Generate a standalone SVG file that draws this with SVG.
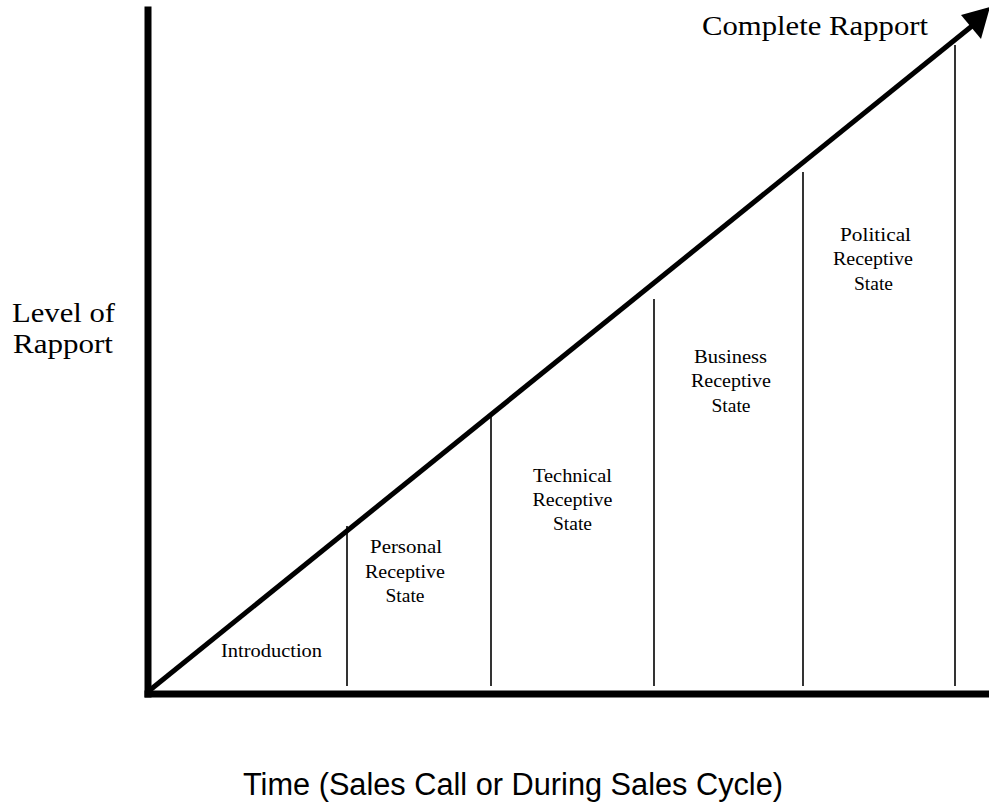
<svg xmlns="http://www.w3.org/2000/svg" width="989" height="803" viewBox="0 0 989 803">
  <defs>
    <style>
      .axis { stroke: #000; stroke-width: 7; fill: none; stroke-linecap: square; }
      .trend { stroke: #000; stroke-width: 5; fill: none; }
      .divider { stroke: #000; stroke-width: 1.6; fill: none; }
      .head { fill: #000; stroke: none; }
      .serif { font-family: "Liberation Serif", "Times New Roman", serif; fill: #000; }
      .big { font-size: 28px; }
      .stage { font-size: 19px; text-anchor: middle; }
      .caption { font-family: "Liberation Sans", Arial, sans-serif; font-size: 31px; fill: #000; }
    </style>
  </defs>
  <rect width="989" height="803" fill="#fff"/>

  <g id="axes">
    <line class="axis" x1="148" y1="10" x2="148" y2="694"/>
    <line class="axis" x1="148" y1="694" x2="986" y2="694"/>
  </g>

  <g id="connectors">
    <line class="divider" x1="347" y1="526" x2="347" y2="686"/>
    <line class="divider" x1="491" y1="414" x2="491" y2="686"/>
    <line class="divider" x1="654" y1="299" x2="654" y2="686"/>
    <line class="divider" x1="803" y1="172" x2="803" y2="686"/>
    <line class="divider" x1="955" y1="45" x2="955" y2="686"/>
    <line class="trend" x1="150" y1="690" x2="972" y2="26"/>
    <polygon class="head" points="990,7 961,15 981,39"/>
  </g>

  <g id="title">
    <text class="serif big" x="702" y="35" textLength="226" lengthAdjust="spacingAndGlyphs">Complete Rapport</text>
  </g>

  <g id="y-label">
    <text class="serif big" x="12" y="322" textLength="103" lengthAdjust="spacingAndGlyphs">Level of</text>
    <text class="serif big" x="13" y="353" textLength="100" lengthAdjust="spacingAndGlyphs">Rapport</text>
  </g>

  <g id="introduction">
    <text class="serif stage" x="271.5" y="657" textLength="101" lengthAdjust="spacingAndGlyphs">Introduction</text>
  </g>

  <g id="personal">
    <text class="serif stage" x="406" y="553" textLength="72" lengthAdjust="spacingAndGlyphs">Personal</text>
    <text class="serif stage" x="405" y="578" textLength="80" lengthAdjust="spacingAndGlyphs">Receptive</text>
    <text class="serif stage" x="405" y="602" textLength="39" lengthAdjust="spacingAndGlyphs">State</text>
  </g>

  <g id="technical">
    <text class="serif stage" x="572.5" y="482" textLength="79" lengthAdjust="spacingAndGlyphs">Technical</text>
    <text class="serif stage" x="572.5" y="506" textLength="80" lengthAdjust="spacingAndGlyphs">Receptive</text>
    <text class="serif stage" x="572.5" y="530" textLength="39" lengthAdjust="spacingAndGlyphs">State</text>
  </g>

  <g id="business">
    <text class="serif stage" x="730.5" y="363" textLength="73" lengthAdjust="spacingAndGlyphs">Business</text>
    <text class="serif stage" x="731" y="387" textLength="80" lengthAdjust="spacingAndGlyphs">Receptive</text>
    <text class="serif stage" x="731" y="412" textLength="39" lengthAdjust="spacingAndGlyphs">State</text>
  </g>

  <g id="political">
    <text class="serif stage" x="875.5" y="241" textLength="71" lengthAdjust="spacingAndGlyphs">Political</text>
    <text class="serif stage" x="873" y="265" textLength="80" lengthAdjust="spacingAndGlyphs">Receptive</text>
    <text class="serif stage" x="873.5" y="290" textLength="39" lengthAdjust="spacingAndGlyphs">State</text>
  </g>

  <g id="x-label">
    <text class="caption" x="243" y="795" textLength="540" lengthAdjust="spacingAndGlyphs">Time (Sales Call or During Sales Cycle)</text>
  </g>
</svg>
